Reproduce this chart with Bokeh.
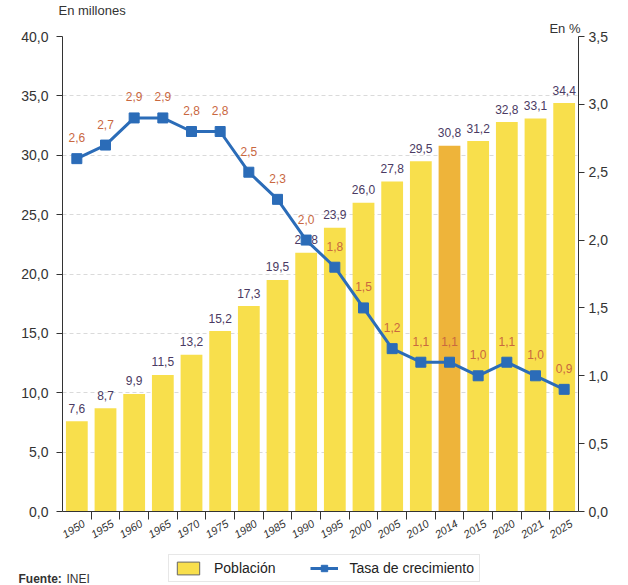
from bokeh.plotting import figure
from bokeh.layouts import column, row
from bokeh.models import (Range1d, LinearAxis, FixedTicker, ColumnDataSource, Legend,
                          LegendItem, Title, Label, CustomJSTickFormatter)
from bokeh.core.properties import value
from bokeh.embed import file_html
from bokeh.resources import INLINE

# ---- data ----
years = ["1950", "1955", "1960", "1965", "1970", "1975", "1980", "1985", "1990",
         "1995", "2000", "2005", "2010", "2014", "2015", "2020", "2021", "2025"]
poblacion = [7.6, 8.7, 9.9, 11.5, 13.2, 15.2, 17.3, 19.5, 21.8, 23.9, 26.0, 27.8,
             29.5, 30.8, 31.2, 32.8, 33.1, 34.4]
tasa = [2.6, 2.7, 2.9, 2.9, 2.8, 2.8, 2.5, 2.3, 2.0, 1.8, 1.5, 1.2, 1.1, 1.1,
        1.0, 1.1, 1.0, 0.9]
highlight_year = "2014"
left_ticks = [0, 5, 10, 15, 20, 25, 30, 35, 40]
right_ticks = [0, 0.5, 1.0, 1.5, 2.0, 2.5, 3.0, 3.5]

FONT = "Liberation Sans"
BAR = "#f8df4c"
BAR_HI = "#eeb43a"
BLUE = "#2b6cb8"

def fmt(v):
    return f"{v:.1f}".replace(".", ",")

xs = list(range(len(years)))
src = ColumnDataSource(dict(
    x=xs, pob=poblacion, tasa=tasa,
    pob_lbl=[fmt(v) for v in poblacion],
    tasa_lbl=[fmt(v) for v in tasa],
    color=[BAR_HI if y == highlight_year else BAR for y in years],
))

p = figure(width=620, height=546, output_backend="svg", toolbar_location=None,
           x_range=Range1d(-0.5, len(years) - 0.5), y_range=Range1d(0, 40),
           min_border_left=62, min_border_right=42, min_border_top=34,
           min_border_bottom=35)
p.extra_y_ranges = {"tasa": Range1d(0, 3.5)}
p.outline_line_color = None
p.background_fill_color = "white"

# grid
p.xgrid.visible = False
p.ygrid.ticker = FixedTicker(ticks=left_ticks)
p.ygrid.grid_line_color = "#dadada"
p.ygrid.grid_line_dash = "4 3"

tick_fmt = "return tick.toFixed(1).replace('.', ',');"

# left axis
ya = p.yaxis[0]
ya.ticker = FixedTicker(ticks=left_ticks)
ya.formatter = CustomJSTickFormatter(code=tick_fmt)
ya.major_tick_in = 0
ya.major_tick_out = 6
ya.minor_tick_line_color = None
ya.axis_line_color = "#333333"
ya.major_tick_line_color = "#333333"
ya.major_label_text_font = FONT
ya.major_label_text_font_size = "14px"
ya.major_label_text_color = "#333333"
ya.major_label_standoff = 8

# right axis
ra = LinearAxis(y_range_name="tasa", ticker=FixedTicker(ticks=right_ticks),
                formatter=CustomJSTickFormatter(code=tick_fmt))
ra.major_tick_in = 0
ra.major_tick_out = 6
ra.minor_tick_line_color = None
ra.axis_line_color = "#333333"
ra.major_tick_line_color = "#333333"
ra.major_label_text_font = FONT
ra.major_label_text_font_size = "14px"
ra.major_label_text_color = "#333333"
ra.major_label_standoff = 4
p.add_layout(ra, "right")

# bottom axis
xa = p.xaxis[0]
xa.ticker = FixedTicker(ticks=[i + 0.25 for i in xs],
                        minor_ticks=[i + 0.5 for i in xs[:-1]])
xa.formatter = CustomJSTickFormatter(args=dict(labels=years),
                                     code="return labels[Math.round(tick - 0.25)];")
xa.major_tick_in = 0
xa.major_tick_out = 0
xa.minor_tick_in = 0
xa.minor_tick_out = 8
xa.axis_line_color = "#333333"
xa.minor_tick_line_color = "#333333"
xa.major_label_orientation = 0.55
xa.major_label_text_font = FONT
xa.major_label_text_font_size = "11px"
xa.major_label_text_font_style = "italic"
xa.major_label_text_color = "#333333"
xa.major_label_standoff = 3

# bars
p.vbar(x="x", top="pob", width=0.76, fill_color="color", line_color=None, source=src)
p.text(x="x", y="pob", text="pob_lbl", source=src, text_align="center",
       text_baseline="middle", y_offset=-13, text_font=value(FONT),
       text_font_size="12px", text_color="#4a3a63")

# line
p.line(x="x", y="tasa", y_range_name="tasa", source=src, line_color=BLUE, line_width=3)
p.scatter(x="x", y="tasa", y_range_name="tasa", source=src, marker="square",
          size=10, fill_color=BLUE, line_color=BLUE)
p.text(x="x", y="tasa", y_range_name="tasa", text="tasa_lbl", source=src,
       text_align="center", text_baseline="middle", y_offset=-21,
       text_font=value(FONT), text_font_size="12px", text_color="#c9683f")

# axis unit titles (inner first)
p.add_layout(Title(text="En %", align="right", offset=-2, standoff=2,
                   text_font=FONT, text_font_size="13px", text_font_style="normal",
                   text_color="#333333"), "above")
p.add_layout(Title(text="En millones", align="left", offset=-4, standoff=0,
                   text_font=FONT, text_font_size="13px", text_font_style="normal",
                   text_color="#333333"), "above")

# ---- legend strip (separate small figure; its series lie outside its view) ----
q = figure(width=620, height=39, output_backend="svg", toolbar_location=None,
           x_range=Range1d(len(years) + 2, len(years) + 3), y_range=Range1d(50, 60),
           x_axis_location=None, y_axis_location=None,
           min_border_left=0, min_border_right=0, min_border_top=0, min_border_bottom=0)
q.outline_line_color = None
q.xgrid.visible = False
q.ygrid.visible = False
lb = q.vbar(x="x", top="pob", width=0.76, fill_color=BAR, line_color="#666666", source=src)
ll = q.line(x="x", y="pob", source=src, line_color=BLUE, line_width=3)
lm = q.scatter(x="x", y="pob", source=src, marker="square", size=9,
               fill_color=BLUE, line_color=BLUE)
legend = Legend(items=[LegendItem(label="Población", renderers=[lb]),
                       LegendItem(label="Tasa de crecimiento", renderers=[ll, lm])],
                location=(168, 3), orientation="horizontal",
                border_line_color="#cfcfcf", background_fill_color="white",
                label_text_font=FONT, label_text_font_size="14px",
                label_text_color="#222222", glyph_width=28, glyph_height=16,
                label_standoff=12, spacing=34, padding=5, margin=0)
q.add_layout(legend, "center")
q.add_layout(Label(x=18, y=0, x_units="screen", y_units="screen", text="Fuente:",
                   text_font=FONT, text_font_size="12px", text_font_style="bold",
                   text_color="#333333"))
q.add_layout(Label(x=66, y=0, x_units="screen", y_units="screen", text="INEI",
                   text_font=FONT, text_font_size="12px", text_color="#333333"))

open("out.html", "w").write(file_html(column(p, row(q), spacing=0), INLINE))
